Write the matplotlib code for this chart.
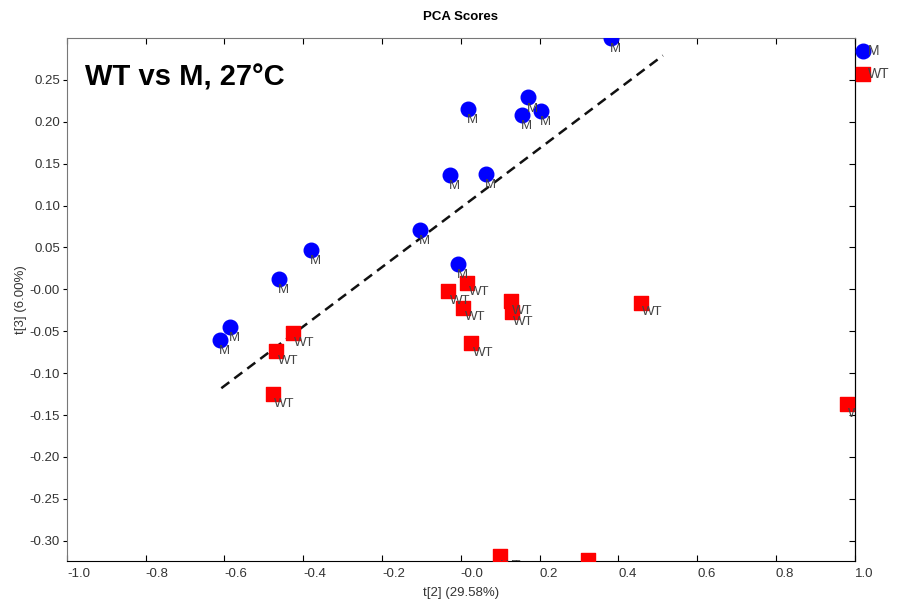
import numpy as np
import matplotlib
matplotlib.use("Agg")
from matplotlib import pyplot as plt

plt.rcParams['font.family'] = ['Liberation Sans', 'DejaVu Sans']

# scores
m_x = [0.381, 0.018, 0.171, 0.155, 0.203, -0.027, 0.064, -0.104, -0.007, -0.380, -0.461, -0.586, -0.611]
m_y = [0.300, 0.215, 0.229, 0.208, 0.213, 0.137, 0.138, 0.071, 0.030, 0.047, 0.012, -0.045, -0.060]
wt_x = [-0.426, -0.469, -0.477, -0.032, 0.016, 0.006, 0.127, 0.130, 0.026, 0.457, 0.980, 0.099, 0.323]
wt_y = [-0.052, -0.074, -0.125, -0.002, 0.008, -0.022, -0.014, -0.027, -0.064, -0.016, -0.137, -0.318, -0.323]
line_x = [-0.608, 0.513]
line_y = [-0.118, 0.279]

xticks = [-1.0, -0.8, -0.6, -0.4, -0.2, 0.0, 0.2, 0.4, 0.6, 0.8, 1.0]
xticklabels = ['-1.0', '-0.8', '-0.6', '-0.4', '-0.2', '-0.0', '0.2', '0.4', '0.6', '0.8', '1.0']
yticks = [-0.30, -0.25, -0.20, -0.15, -0.10, -0.05, 0.0, 0.05, 0.10, 0.15, 0.20, 0.25]
yticklabels = ['-0.30', '-0.25', '-0.20', '-0.15', '-0.10', '-0.05', '-0.00',
               '0.05', '0.10', '0.15', '0.20', '0.25']

fig = plt.figure(figsize=(8.99, 6.05), dpi=100)
ax = fig.add_axes([0.0744, 0.0727, 0.8764, 0.8645])

ax.plot(line_x, line_y, ls=(0, (4, 2.5)), color='#111111', lw=1.8, zorder=2)
ax.scatter(m_x, m_y, s=110, marker='o', color='#0000ff', zorder=3, label='M')
ax.scatter(wt_x, wt_y, s=95, marker='s', color='#ff0000', zorder=3, label='WT')

for x, y in zip(m_x, m_y):
    ax.annotate('M', (x, y), xytext=(-1, -8), textcoords='offset points',
                ha='left', va='center', fontsize=9.5, color='#444444', zorder=4,
                annotation_clip=False, clip_on=True)
for x, y in zip(wt_x, wt_y):
    ax.annotate('WT', (x, y), xytext=(1, -7), textcoords='offset points',
                ha='left', va='center', fontsize=9.5, color='#444444', zorder=4,
                annotation_clip=False, clip_on=True)

ax.set_xlim(-1.0, 1.0)
ax.set_ylim(-0.3242, 0.2999)
ax.set_xticks(xticks)
ax.set_xticklabels(xticklabels, ha='left', fontsize=9.5, color='#333333')
ax.set_yticks(yticks)
ax.set_yticklabels(yticklabels, fontsize=9.5, color='#333333')

ax.tick_params(axis='x', direction='in', top=True, length=4, pad=5)
ax.tick_params(axis='y', direction='out', length=3, pad=2)
sec = ax.secondary_yaxis('right')
sec.set_yticks(yticks)
sec.tick_params(direction='in', length=4, labelright=False)
sec.spines['right'].set_color('black')

for s in ['left', 'top']:
    ax.spines[s].set_color('#777777')
ax.spines['bottom'].set_color('black')

ax.set_xlabel('t[2] (29.58%)', fontsize=9.5, color='#333333', labelpad=5)
ax.set_ylabel('t[3] (6.00%)', fontsize=9.5, color='#333333', labelpad=2)
ax.set_title('PCA Scores', fontsize=9.5, fontweight='bold', pad=13)

ax.text(85 / 899, 1 - 77 / 605, 'WT vs M, 27°C', transform=fig.transFigure,
        fontsize=21, fontweight='bold', va='center', ha='left')

ax.legend(loc='upper left', bbox_to_anchor=(0.995, 1.0), frameon=False,
          handletextpad=-0.2, borderaxespad=0.0, labelspacing=0.65,
          fontsize=10, labelcolor='#444444', handlelength=1.0, markerscale=1.0)

fig.savefig('out.png', dpi=100)
